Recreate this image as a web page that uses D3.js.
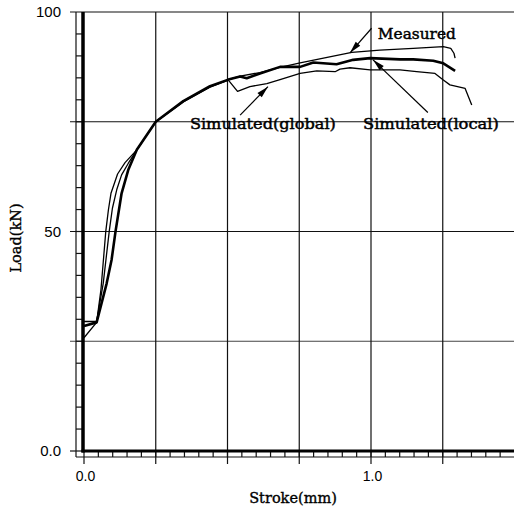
<!DOCTYPE html>
<html><head><meta charset="utf-8">
<script src="https://cdn.jsdelivr.net/npm/d3@7"></script>
<style>body{margin:0;background:#fff}svg{display:block}</style>
</head><body>
<script>
// ---- data ----
const yTickValues = [0, 50, 100];
const yTickLabels = ["0.0", "50", "100"];
const xTickValues = [0, 1];
const xTickLabels = ["0.0", "1.0"];
const xGrid = [0.25, 0.5, 0.75, 1.0, 1.25];
const yGrid = [25, 50, 75, 100];

const measured = [
  [0.0,25.8],[0.044,29.3],[0.059,36.7],[0.076,50.1],[0.085,54.9],[0.094,58.7],[0.117,63.1],
  [0.143,65.7],[0.184,68.6],[0.25,75.0],[0.346,79.7],[0.439,83.0],[0.503,84.6],[0.544,85.4],
  [0.613,86.2],[0.683,87.4],[0.753,88.4],[0.933,90.8],[1.031,91.3],[1.147,91.7],[1.252,92.1],
  [1.278,91.7],[1.289,90.6],[1.293,89.5]
];
const simGlobal = [
  [0.0,29.5],[0.044,29.5],[0.067,38.2],[0.088,50.1],[0.099,55.3],[0.114,59.5],[0.131,62.9],
  [0.154,65.5],[0.184,68.6],[0.25,75.0],[0.346,79.5],[0.439,82.9],[0.503,84.5],[0.535,81.9],
  [0.578,83.0],[0.637,83.7],[0.683,84.6],[0.753,86.0],[0.811,86.6],[0.875,86.4],[0.892,87.0],
  [0.927,87.3],[0.997,86.8],[1.101,86.8],[1.159,86.4],[1.223,86.0],[1.252,84.5],[1.275,83.4],
  [1.328,82.6],[1.351,78.8]
];
const simLocal = [
  [0.0,28.5],[0.044,29.3],[0.079,38.2],[0.096,43.5],[0.110,50.1],[0.131,58.7],[0.154,64.0],
  [0.184,68.6],[0.25,75.0],[0.346,79.7],[0.439,83.1],[0.503,84.6],[0.544,85.3],[0.567,84.9],
  [0.613,86.0],[0.683,87.5],[0.753,87.5],[0.799,88.5],[0.880,88.1],[0.938,89.1],[0.997,89.5],
  [1.101,89.2],[1.147,89.2],[1.217,88.9],[1.252,88.3],[1.293,86.6]
];
// annotations: text, text anchor point [x,y] (data), arrow tail [x,y], arrow tip [x,y]
const annotations = [
  {text:"Measured", at:[1.024,93.8], tail:[1.002,96.3], tip:[0.927,90.7]},
  {text:"Simulated(global)", at:[0.369,73.3], tail:[0.544,76.5], tip:[0.641,83.0]},
  {text:"Simulated(local)", at:[0.972,73.3], tail:[1.198,77.1], tip:[1.007,89.1]}
];

// ---- layout ----
const W = 514, H = 506;
const x = d3.scaleLinear().domain([0, 1]).range([84, 371]);
const y = d3.scaleLinear().domain([0, 100]).range([451, 12]);
const xMax = x.invert(W);

const svg = d3.select("body").append("svg").attr("width", W).attr("height", H);
const ink = "#111";

// horizontal grid lines
svg.append("g").selectAll("line").data(yGrid).join("line")
  .attr("x1", 70).attr("x2", W).attr("y1", d => y(d)).attr("y2", d => y(d))
  .attr("stroke", d => d === 25 ? "#444" : ink).attr("stroke-width", 1.2);
// vertical grid lines
svg.append("g").selectAll("line").data(xGrid).join("line")
  .attr("x1", d => x(d)).attr("x2", d => x(d)).attr("y1", y(100)).attr("y2", 464)
  .attr("stroke", ink).attr("stroke-width", 1.2);

// ladders (minor ruler)
const yMinor = d3.range(5, 100, 5);
const xMinor = d3.range(0.05, xMax, 0.05);
svg.append("line").attr("x1", 76).attr("x2", 76).attr("y1", y(100)).attr("y2", 457)
  .attr("stroke", ink).attr("stroke-width", 1.2);
svg.append("g").selectAll("line").data(yMinor).join("line")
  .attr("x1", 76).attr("x2", 83).attr("y1", d => y(d)).attr("y2", d => y(d))
  .attr("stroke", ink).attr("stroke-width", 1.2);
svg.append("line").attr("x1", 76).attr("x2", W).attr("y1", 457).attr("y2", 457)
  .attr("stroke", ink).attr("stroke-width", 1.2);
svg.append("g").selectAll("line").data(xMinor).join("line")
  .attr("x1", d => x(d)).attr("x2", d => x(d)).attr("y1", 451).attr("y2", 457)
  .attr("stroke", ink).attr("stroke-width", 1.2);
// zero ticks
svg.append("line").attr("x1", 70).attr("x2", 84).attr("y1", y(0)).attr("y2", y(0))
  .attr("stroke", ink).attr("stroke-width", 1.2);
svg.append("line").attr("x1", x(0)).attr("x2", x(0)).attr("y1", 451).attr("y2", 464)
  .attr("stroke", ink).attr("stroke-width", 1.2);
// thick axes
svg.append("line").attr("x1", x(0)-1).attr("x2", x(0)-1).attr("y1", y(100)).attr("y2", y(0)+1.5)
  .attr("stroke", "#000").attr("stroke-width", 3.5);
svg.append("line").attr("x1", x(0)-2.5).attr("x2", W).attr("y1", y(0)).attr("y2", y(0))
  .attr("stroke", "#000").attr("stroke-width", 3);

// axes labels via d3 axes
const yAxis = d3.axisLeft(y).tickValues(yTickValues)
  .tickFormat((d, i) => yTickLabels[i]).tickSize(0).tickPadding(9);
const gy = svg.append("g").attr("transform", "translate(70,0)").call(yAxis);
gy.select(".domain").remove();
gy.selectAll("text").attr("font-family", "Liberation Sans, Arial, sans-serif")
  .attr("font-size", 15).attr("fill", "#000");

const xAxis = d3.axisBottom(x).tickValues(xTickValues)
  .tickFormat((d, i) => xTickLabels[i]).tickSize(0).tickPadding(20);
const gx = svg.append("g").attr("transform", "translate(1,451)").call(xAxis);
gx.select(".domain").remove();
gx.selectAll("text").attr("font-family", "Liberation Sans, Arial, sans-serif")
  .attr("font-size", 14).attr("fill", "#000");

// axis titles
svg.append("text").attr("transform", "translate(21,238) rotate(-90)")
  .attr("text-anchor", "middle").attr("font-family", "DejaVu Serif, serif")
  .attr("font-size", 14.5).attr("fill", "#000").attr("stroke", "#000").attr("stroke-width", 0.35)
  .text("Load(kN)");
svg.append("text").attr("x", 293).attr("y", 503)
  .attr("text-anchor", "middle").attr("font-family", "DejaVu Serif, serif")
  .attr("font-size", 14.5).attr("fill", "#000").attr("stroke", "#000").attr("stroke-width", 0.35)
  .text("Stroke(mm)");

// curves
const line = d3.line().x(d => x(d[0])).y(d => y(d[1]));
svg.append("path").datum(measured).attr("d", line).attr("fill", "none")
  .attr("stroke", "#000").attr("stroke-width", 1.3).attr("stroke-linejoin", "round");
svg.append("path").datum(simGlobal).attr("d", line).attr("fill", "none")
  .attr("stroke", "#000").attr("stroke-width", 1.3).attr("stroke-linejoin", "round");
svg.append("path").datum(simLocal).attr("d", line).attr("fill", "none")
  .attr("stroke", "#000").attr("stroke-width", 2.6).attr("stroke-linejoin", "round");

// annotations
const widths = {"Measured": 78, "Simulated(global)": 146, "Simulated(local)": 136};
annotations.forEach(a => {
  svg.append("text").attr("x", x(a.at[0])).attr("y", y(a.at[1]))
    .attr("font-family", "DejaVu Serif, serif").attr("font-size", 15)
    .attr("textLength", widths[a.text]).attr("lengthAdjust", "spacingAndGlyphs")
    .attr("fill", "#000").attr("stroke", "#000").attr("stroke-width", 0.45).text(a.text);
  const x1 = x(a.tail[0]), y1 = y(a.tail[1]), x2 = x(a.tip[0]), y2 = y(a.tip[1]);
  svg.append("line").attr("x1", x1).attr("y1", y1).attr("x2", x2).attr("y2", y2)
    .attr("stroke", "#000").attr("stroke-width", 1.2);
  const ang = Math.atan2(y2 - y1, x2 - x1);
  const L = 12, Wd = 3;
  const bx = x2 - L * Math.cos(ang), by = y2 - L * Math.sin(ang);
  const px = -Math.sin(ang) * Wd, py = Math.cos(ang) * Wd;
  svg.append("path").attr("d", `M${x2},${y2}L${bx+px},${by+py}L${bx-px},${by-py}Z`)
    .attr("fill", "#000");
});
</script>
</body></html>
